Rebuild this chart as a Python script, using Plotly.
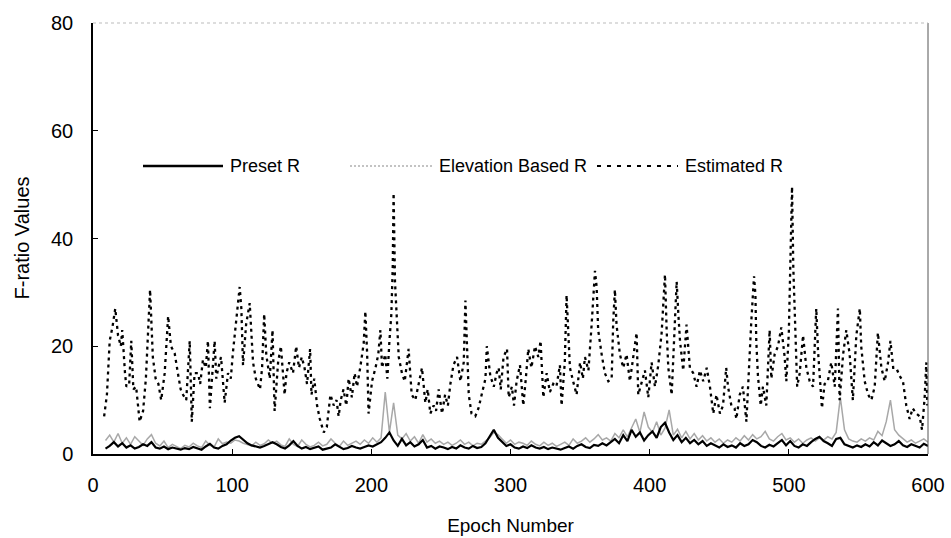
import plotly.graph_objects as go

# ---------------- data ----------------
grid_epoch = list(range(9, 601, 3))

preset_r = [
    1.0, 1.5, 2.2, 1.4, 2.0, 1.2, 1.6, 1.0, 1.3, 1.8,
    1.5, 2.2, 1.2, 1.0, 1.4, 0.9, 1.2, 1.0, 0.8, 1.1,
    0.9, 1.3, 1.0, 0.8, 1.4, 1.9, 1.2, 1.0, 1.5, 1.8,
    2.5, 3.0, 3.3, 2.6, 2.0, 1.6, 1.4, 1.2, 1.5, 1.8,
    2.2, 1.8, 1.3, 1.0, 1.6, 2.4, 1.5, 1.0, 1.3, 0.9,
    1.1, 1.4, 0.8, 1.0, 1.2, 1.8, 1.3, 0.9, 1.1, 1.5,
    1.2, 1.0, 1.3, 1.6, 1.4, 1.8, 2.2, 3.0, 4.0, 2.5,
    1.5, 2.8, 1.6, 2.2, 1.4, 1.8, 2.6, 1.2, 1.5, 1.0,
    1.4, 1.2, 0.9, 1.3, 1.0, 1.6, 1.2, 1.0, 1.5, 1.1,
    1.3, 2.0, 3.2, 4.5, 3.0, 2.2, 1.5, 1.8, 1.2, 1.0,
    1.4, 1.1, 1.6, 1.2, 1.0, 1.3, 0.9, 1.2, 1.0, 0.8,
    1.1, 1.4, 1.0, 1.5, 1.8, 1.3, 1.1, 1.7, 1.5, 2.0,
    1.6, 2.2, 2.8, 2.0, 3.5, 2.4, 4.5, 3.2, 4.0, 2.5,
    3.5, 4.2, 3.0, 5.0, 5.8, 4.0, 2.6, 3.5, 2.2, 3.0,
    2.0, 2.6, 1.8, 2.4, 1.5, 2.0, 1.6, 1.2, 1.8, 1.3,
    1.6, 1.2, 2.0, 1.5, 1.8, 2.6, 2.2, 1.5, 1.2, 1.7,
    1.4, 2.0, 2.6, 1.6, 2.4, 1.5, 1.2, 1.8, 1.5, 2.2,
    2.8, 3.2, 2.4, 2.0, 1.5, 2.8, 3.0, 1.8, 1.5, 1.2,
    1.6, 1.3, 1.8, 1.4, 2.2, 1.6, 2.5, 2.0, 1.5, 1.8,
    2.4, 1.6, 1.3, 1.8, 1.5, 1.2, 1.9, 1.5,
]

elevation_r = [
    2.5, 3.5, 2.2, 3.8, 2.0, 3.0, 1.8, 3.2, 2.4, 1.6,
    2.8, 3.6, 2.0, 1.5, 2.4, 1.2, 1.8, 1.4, 1.0, 1.6,
    1.3, 2.0, 1.5, 1.2, 2.4, 1.6, 1.3, 2.8, 1.9, 2.2,
    2.0, 2.6, 2.4, 2.0, 1.8, 1.5, 2.2, 1.6, 1.9, 2.6,
    2.0, 2.4, 1.7, 1.4, 2.8, 1.8, 1.4, 2.6, 1.8, 1.3,
    1.6, 2.2, 1.5, 1.8, 2.8, 2.0, 1.4, 2.4, 1.6, 2.0,
    2.4, 1.8, 2.6, 2.0, 3.0, 2.2, 3.0, 11.5, 4.0, 9.5,
    3.5, 2.8, 3.8, 2.4, 3.2, 2.0, 3.6, 2.2, 2.8, 2.0,
    2.4, 1.8, 2.2, 1.6, 2.0, 2.6, 1.8, 2.2, 1.5, 2.0,
    1.8, 2.4, 3.0, 4.0, 3.6, 2.8, 2.0, 2.6, 1.8, 2.2,
    2.0, 1.6, 2.4, 1.8, 1.5, 2.2, 1.6, 2.0, 1.4, 1.8,
    2.2, 1.6, 2.8, 2.0, 2.4, 3.0, 2.2, 2.8, 3.6, 2.6,
    3.0, 2.4, 3.8, 3.0, 4.5, 3.2, 5.0, 6.5, 4.0, 7.8,
    5.0, 4.0, 6.0, 3.5, 4.8, 8.2, 3.5, 4.6, 3.0, 4.2,
    2.8, 3.8, 2.6, 3.4, 2.4, 3.0, 2.2, 2.8, 2.0, 2.6,
    2.2, 3.0, 2.4, 3.4, 2.6, 3.6, 2.8, 3.2, 4.2, 2.8,
    2.4, 3.2, 3.8, 2.6, 3.0, 2.2, 2.8, 2.0, 2.6, 3.0,
    2.4, 3.0, 2.6, 3.2, 2.8, 4.0, 10.5, 4.5, 2.8, 2.4,
    2.2, 2.8, 2.4, 3.0, 2.6, 4.2, 3.4, 6.0, 10.0, 4.5,
    3.5, 2.8, 2.2, 2.6, 2.0, 2.4, 2.8, 2.2,
]

est_epoch = [
    8, 10, 12, 14, 16, 18, 20, 21, 23, 24, 26, 27.5, 29, 31, 33.5, 36, 38, 41, 43, 45,
    47, 49, 51.5, 54, 56, 58.7, 61, 63, 64.7, 67, 69.5, 71, 73, 75.5, 77, 79, 81, 82.6, 84, 86,
    87.4, 88.6, 90, 92, 94.6, 97, 99, 100.6, 103, 105.4, 106.6, 107.8, 110, 112.6, 115, 117, 120, 121.5, 123, 124.5,
    127, 129, 130.5, 133, 135, 137.7, 139, 141, 143.7, 146, 148, 150, 152, 153.8, 156, 157, 159, 161, 163, 165.8,
    168, 170.6, 173, 175, 176.5, 178, 180, 182, 183.7, 186, 188, 189.7, 192, 194.5, 195.7, 197, 198, 200.5, 203, 205,
    206.5, 207.7, 210, 211.5, 213, 214.4, 215.4, 216, 217, 218.5, 219.7, 222, 224, 226.8, 229, 231.6, 234, 236.4, 238.8, 240.5,
    242.4, 244.8, 246.5, 248.4, 250.8, 253, 255, 256.8, 259, 261.6, 264, 266.4, 267.6, 268.8, 270, 272, 274.7, 277, 279.5, 282,
    283, 285.5, 288, 290, 291.5, 293, 295, 297.5, 298.7, 301, 302.5, 304.4, 306.8, 309.2, 311, 312.8, 315, 317.6, 320, 321.6,
    323.6, 326, 328.3, 330.7, 333, 335.5, 336.7, 339, 340.3, 341.5, 342.7, 345, 347.5, 350, 352, 353.5, 356, 358.3, 360.7, 361.9,
    363, 365.5, 367.8, 370.3, 372.7, 373.8, 375, 376.2, 378.6, 381, 383.4, 385.8, 388.2, 390.6, 391.8, 394.2, 396.6, 399, 401.4, 403.8,
    406.2, 408.6, 410.3, 411, 412.2, 413.4, 415.8, 418.2, 419.4, 420.6, 421.8, 424.1, 426.5, 428.9, 431.3, 433.7, 436.1, 438.5, 441, 443.3,
    445.7, 448, 450.5, 452.7, 455, 456.3, 458.7, 461, 462.3, 464.7, 467, 469.5, 471.9, 473, 475, 476, 476.6, 477.8, 479.8, 481.4,
    483.8, 486.2, 487.4, 489.8, 492.2, 494.6, 497, 498.2, 500, 501.3, 502.3, 503.2, 504.7, 506, 507.8, 510.2, 512.6, 515, 517.4, 519.7,
    521, 522, 523.8, 525.7, 528, 530.5, 533, 535.3, 536.5, 539, 541.3, 543.7, 546, 548.5, 551, 552, 554.5, 557, 559.3, 561.7,
    564, 566.5, 568.9, 571.3, 573, 575, 577.2, 579.6, 582, 584.4, 586.8, 589, 591.6, 594, 595.7, 597.6, 598.8, 599.5,
]

est_value = [
    7, 11, 21, 23.6, 27, 22, 20, 23, 15, 12.5, 13, 21, 12, 12.5, 6, 8, 14, 30.5, 18, 14,
    13, 10, 15, 25.6, 20, 18.7, 15, 12, 11, 10, 21, 6, 15, 15, 13, 17.5, 16, 21, 8.5, 16,
    21, 14, 16, 18, 9.5, 15, 14, 19, 24.5, 31, 27, 16.5, 24, 28, 17, 14, 12, 16, 26, 18.5,
    14, 23, 8, 17, 20, 11, 15, 17, 15, 20, 16, 18, 16, 13, 19.5, 11, 14, 9, 6.5, 4,
    5, 11, 9, 10, 7, 10, 12, 9, 14, 10.5, 15, 12.5, 16, 20.5, 26.5, 18.5, 7.5, 13.5, 16, 18.5,
    23, 16, 18.5, 14, 21, 26, 35, 48.4, 32, 23, 18, 15, 13.5, 19.5, 11, 10, 13, 16, 9.5, 12,
    7.5, 9, 8, 12, 7.5, 11, 9, 13, 16.5, 18, 13.5, 17, 28.5, 21, 11, 7.5, 7, 8.5, 11, 14,
    20, 14.5, 12.5, 15, 16, 12, 18, 19.5, 10.5, 12.5, 9, 13.5, 16.5, 9, 14, 19.5, 16, 20, 18, 21,
    10.5, 15, 11.5, 13, 12.5, 16.5, 9, 17, 29.5, 22, 16, 13.5, 11, 17, 14, 18, 15.5, 24, 34, 31,
    23, 18.5, 15, 13.5, 14, 24.5, 30.5, 24, 18.5, 16, 18.5, 13.5, 18.5, 22.5, 11, 13.5, 15.5, 10.5, 17, 12.5,
    16.5, 22.5, 29.5, 33.3, 23, 16, 11, 24, 32, 26, 21, 15.5, 24, 16, 15, 12.5, 15.5, 13.5, 16, 12.5,
    7.5, 11, 7.5, 9, 16, 12.5, 9, 8.5, 6.5, 11, 12.5, 6, 20, 24.5, 33, 29.5, 21, 14.5, 9, 12.5,
    9, 23, 14, 18.5, 20, 23.5, 18, 13.5, 22.5, 38.5, 49.6, 34.7, 21, 12.5, 15, 22, 16, 13.5, 12.5, 27,
    19, 15.5, 8.5, 13, 13.5, 17, 12.5, 27, 10, 18.5, 23, 18.5, 10, 22, 27, 20, 13.5, 11, 10, 12.5,
    22.5, 16, 13.5, 17, 21, 16, 16, 14.5, 13.5, 9, 6.5, 8.5, 7.5, 7, 4.5, 10.5, 17, 9,
]

series_names = ["Preset R", "Elevation Based R", "Estimated R"]
x_ticks = [0, 100, 200, 300, 400, 500, 600]
y_ticks = [0, 20, 40, 60, 80]

FONT = "Liberation Sans, Arial, sans-serif"

fig = go.Figure()
fig.add_trace(go.Scatter(x=grid_epoch, y=elevation_r, mode="lines", name=series_names[1],
                         line=dict(color="#a8a8a8", width=1.5)))
fig.add_trace(go.Scatter(x=grid_epoch, y=preset_r, mode="lines", name=series_names[0],
                         line=dict(color="black", width=2.2)))
fig.add_trace(go.Scatter(x=est_epoch, y=est_value, mode="lines", name=series_names[2],
                         line=dict(color="black", width=2.3, dash="3px,4px")))

# manual legend (Excel-style long sample lines), paper coordinates
L, R, T, B = 93, 23, 23, 84
W, H = 951, 538
pw, ph = W - L - R, H - T - B


def px(xp):
    return (xp - L) / pw


def py(yp):
    return (H - B - yp) / ph


leg_y = 166
legend_items = [
    (143, 223, 228, dict(color="black", width=2.5)),
    (350, 432, 437, dict(color="#b0b0b0", width=1.5, dash="2px,2px")),
    (597, 678, 683, dict(color="black", width=1.8, dash="4px,6px")),
]
shapes = []
annotations = []
for name, (x0, x1, xt, ln) in zip(series_names, legend_items):
    shapes.append(dict(type="line", xref="paper", yref="paper", x0=px(x0), x1=px(x1),
                       y0=py(leg_y), y1=py(leg_y), line=ln))
    annotations.append(dict(xref="paper", yref="paper", x=px(xt), y=py(leg_y), text=name,
                            showarrow=False, xanchor="left", yanchor="middle",
                            font=dict(family=FONT, size=18, color="black")))

# y-axis title placed as rotated text
annotations.append(dict(xref="paper", yref="paper", x=px(21), y=0.5, text="F-ratio Values",
                        textangle=-90, showarrow=False, xanchor="center", yanchor="middle",
                        font=dict(family=FONT, size=20, color="black")))

# right and top frame lines
shapes.append(dict(type="line", xref="paper", yref="paper", x0=1, x1=1, y0=0, y1=1,
                   line=dict(color="#555555", width=1)))
shapes.append(dict(type="line", xref="paper", yref="paper", x0=0, x1=1, y0=1, y1=1,
                   line=dict(color="#bbbbbb", width=1, dash="dot")))

fig.update_layout(
    width=W, height=H,
    margin=dict(l=L, r=R, t=T, b=B, pad=0, autoexpand=False),
    paper_bgcolor="white", plot_bgcolor="white",
    showlegend=False,
    font=dict(family=FONT, size=20, color="black"),
    shapes=shapes,
    annotations=annotations,
    xaxis=dict(range=[0, 600], tickvals=x_ticks, ticks="inside", ticklen=5, tickcolor="black",
               showline=True, linecolor="black", linewidth=1.5, showgrid=False, zeroline=False,
               automargin=False,
               ticklabelstandoff=12, tickfont=dict(size=20),
               title=dict(text="Epoch Number", standoff=24, font=dict(size=19))),
    yaxis=dict(range=[0, 80], tickvals=y_ticks, ticks="inside", ticklen=5, tickcolor="black",
               showline=True, linecolor="black", linewidth=1.5, showgrid=False, zeroline=False,
               automargin=False,
               ticklabelstandoff=14, tickfont=dict(size=20)),
)

fig.write_html("out.html")
